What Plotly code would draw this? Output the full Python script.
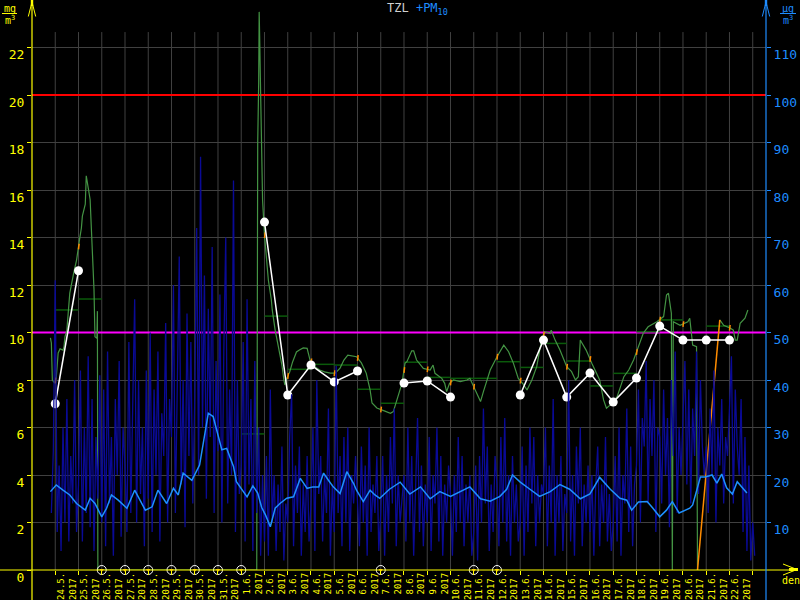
import pandas as pd
import plotly.graph_objects as go

# ---------------- DATA ----------------
START = pd.Timestamp("2017-05-24 00:00")

tick_labels = ["24.5.", "25.5.", "26.5.", "27.5.", "28.5.", "29.5.", "30.5.", "31.5.",
               "1.6.", "2.6.", "3.6.", "4.6.", "5.6.", "6.6.", "7.6.", "8.6.", "9.6.",
               "10.6.", "11.6.", "12.6.", "13.6.", "14.6.", "15.6.", "16.6.", "17.6.",
               "18.6.", "19.6.", "20.6.", "21.6.", "22.6."]
year_label = "2017"

# TZL daily values (mg/m3), None = missing day
tzl_daily = [7.0, 12.6, None, None, None, None, None, None, None, 14.65, 7.37, 8.63, 7.92,
             8.38, None, 7.87, 7.96, 7.28, None, None, 7.37, 9.68, 7.28, 8.29, 7.07, 8.08,
             10.27, 9.68, 9.68, 9.68]

# TZL day means (dark green segments)
tzl_day_mean = [10.95, 11.41, None, None, None, None, None, None, 5.73, 10.69, 8.45, 8.66,
                8.63, 7.61, 7.02, 8.75, 8.11, 8.07, 8.07, 8.77, 8.53, 9.54, 8.8, 7.75, 8.28,
                10.03, 10.53, None, 10.27, None]

# TZL running values (hours from 24.5. 00:00, mg/m3)
tzl_hours = [-5, -4, -3, -1, 1, 2, 3, 5, 8, 9, 10, 12, 15, 19, 22, 25, 27, 28, 31, 32, 33, 34,
             36, 37, 38, 39, 40, 41, 43, 43.5, 44, 208, 208.5, 209, 210, 210.5, 211, 212, 213,
             214, 216, 218, 220, 223, 224, 227, 229, 231, 234, 236, 237, 239, 242, 245, 249,
             252, 256, 260, 263, 268, 273, 278, 284, 289, 294, 298, 302, 311, 316, 321, 325,
             327, 332, 339, 346, 349, 352, 358, 361, 363, 368, 370, 373, 380, 387, 390, 392,
             399, 402, 404, 407, 411, 418, 425, 428, 432, 435, 439, 442, 449, 456, 463, 468,
             473, 478, 483, 487, 492, 497, 502, 505, 511, 512, 516, 521, 528, 533, 537, 540,
             542, 543, 548, 554, 557, 562, 566, 569, 573, 580, 587, 592, 597, 602, 607, 612,
             621, 628, 631, 633, 635, 636, 637, 638, 645, 650, 653, 655, 657, 658, 662, 663,
             664, 686, 690, 697, 700, 702, 704, 707, 712, 715]
tzl_values = [9.77, 9.56, 8.0, 7.89, 8.07, 8.72, 9.14, 9.31, 9.26, 9.4, 9.82, 10.1, 11.66, 12.5,
              13.05, 13.9, 14.4, 14.9, 15.4, 16.6, 16.4, 16.1, 15.6, 14.7, 14.2, 13.1, 11.8,
              9.82, 9.76, 10.9, 0.0, 0.0, 8.5, 18.0, 20.5, 23.5, 22.5, 20.1, 16.8, 15.6, 14.1,
              13.05, 12.2, 11.4, 10.95, 10.1, 9.68, 9.26, 8.63, 8.0, 7.79, 8.08, 8.34, 8.76,
              9.18, 9.26, 9.35, 9.33, 8.84, 8.56, 8.42, 8.34, 8.29, 8.29, 8.5, 8.84, 9.05, 8.98,
              8.72, 8.29, 7.58, 7.03, 6.82, 6.71, 6.6, 6.67, 7.09, 7.87, 8.7, 8.77, 9.23, 9.23,
              8.84, 8.49, 8.42, 8.63, 8.28, 8.07, 7.86, 7.51, 7.86, 8.0, 7.93, 8.0, 8.07, 7.72,
              7.51, 7.09, 7.51, 8.42, 8.98, 9.47, 9.19, 8.7, 8.07, 7.83, 7.58, 8.0, 8.56, 9.68,
              10.03, 9.96, 10.1, 9.68, 9.26, 8.56, 8.35, 8.0, 8.14, 9.68, 9.61, 9.26, 8.7, 8.42,
              8.0, 7.16, 6.81, 6.95, 7.3, 8.14, 8.42, 8.84, 9.4, 9.97, 10.24, 10.45, 10.67,
              11.58, 11.65, 11.09, 10.81, 0.0, 10.45, 10.3, 10.39, 10.45, 10.6, 9.97, 9.47, 9.4,
              0.0, None, 10.53, 10.3, 10.18, 10.1, 9.68, 9.68, 10.39, 10.6, 10.95]

# TZL substituted (orange) segment
tzl_subst_hours = [663, 675, 686]
tzl_subst_values = [0.0, 5.4, 10.53]

# PM10 raw values (ug/m3), every 2 hours starting at hour -4
pm10_raw = [12, 25,
    61, 8, 22, 4, 30, 10, 36, 6, 24, 14, 40, 8,
    18, 42, 6, 30, 12, 45, 9, 36, 4, 28, 15, 41,
    10, 38, 5, 46, 14, 28, 3, 36, 20, 44, 7, 30,
    22, 8, 48, 12, 35, 57, 10, 40, 16, 30, 5, 42,
    15, 50, 8, 38, 20, 46, 6, 33, 24, 52, 10, 36,
    28, 60, 12, 44, 66, 18, 40, 9, 54, 24, 48, 14,
    36, 72, 20, 87, 30, 62, 15, 55, 28, 68, 12, 44,
    25, 58, 10, 46, 70, 14, 38, 20, 82, 8, 40, 16,
    22, 48, 6, 57, 18, 36, 4, 44, 12, 30, 3, 20,
    6, 24, 3, 38, 10, 20, 4, 18, 8, 26, 2, 14,
    10, 28, 37, 5, 22, 12, 26, 3, 18, 8, 24, 6,
    14, 30, 4, 40, 16, 24, 6, 20, 12, 34, 3, 18,
    8, 43, 12, 24, 5, 28, 10, 30, 4, 20, 14, 24,
    16, 5, 26, 10, 22, 3, 30, 8, 18, 12, 24, 4,
    12, 24, 3, 20, 8, 28, 14, 34, 5, 20, 10, 16,
    20, 6, 30, 10, 24, 3, 18, 32, 8, 22, 5, 18,
    10, 28, 4, 20, 14, 30, 6, 24, 3, 18, 10, 22,
    16, 3, 20, 8, 28, 10, 24, 5, 18, 10, 20, 3,
    8, 22, 2, 24, 10, 34, 14, 26, 4, 18, 8, 24,
    18, 5, 28, 10, 32, 6, 20, 3, 24, 10, 18, 6,
    10, 26, 3, 22, 8, 30, 14, 28, 5, 20, 10, 18,
    16, 30, 5, 22, 10, 36, 3, 20, 10, 24, 4, 16,
    12, 40, 6, 20, 3, 26, 14, 30, 5, 18, 10, 22,
    8, 20, 3, 18, 26, 5, 18, 10, 28, 6, 16, 4,
    10, 24, 6, 30, 3, 20, 14, 34, 8, 26, 5, 18,
    22, 38, 10, 32, 26, 44, 14, 36, 24, 40, 8, 30,
    28, 14, 38, 20, 32, 9, 40, 24, 46, 12, 30, 20,
    32, 44, 18, 38, 14, 34, 24, 46, 16, 40, 26, 20,
    26, 12, 34, 20, 42, 10, 30, 22, 36, 14, 28, 24,
    34, 45, 14, 38, 26, 20, 36, 8, 28, 4, 22, 2,
    10, 3]
PM10_RAW_FIRST_HOUR = -4
PM10_RAW_STEP_HOURS = 2

# PM10 running average (hours, ug/m3)
pm10_avg_hours = [-5, 1, 8, 15, 22, 31, 36, 41, 48, 53, 58, 65, 74, 82, 93, 100, 106, 115, 122,
                  127, 132, 141, 149, 153, 158, 163, 172, 177, 184, 187, 198, 204, 209, 213, 217,
                  222, 227, 232, 239, 246, 253, 260, 266, 272, 277, 282, 287, 294, 301, 308, 311,
                  318, 325, 330, 335, 345, 356, 366, 377, 387, 397, 408, 418, 428, 439, 449, 459,
                  466, 472, 480, 490, 500, 511, 521, 531, 542, 552, 562, 573, 583, 590, 595, 602,
                  611, 617, 624, 631, 637, 644, 650, 655, 658, 662, 666, 671, 678, 683, 688, 693,
                  699, 704, 709, 714]
pm10_avg_values = [16.5, 17.9, 16.8, 15.8, 14.0, 12.6, 15.1, 14.0, 11.2, 13.0, 15.8, 14.7, 13.0,
                   16.8, 12.6, 13.3, 16.8, 14.0, 17.2, 15.8, 20.4, 18.9, 22.1, 27.0, 33.0, 32.3,
                   25.3, 25.6, 21.8, 18.6, 15.4, 17.7, 16.2, 13.2, 11.6, 9.1, 13.0, 14.0, 15.1,
                   15.4, 19.3, 17.2, 17.5, 17.5, 20.4, 18.9, 17.5, 16.1, 20.7, 18.2, 16.8, 14.4,
                   16.8, 15.8, 15.1, 17.0, 18.5, 16.0, 17.5, 15.0, 16.5, 15.5, 16.5, 17.5, 15.0,
                   14.5, 15.5, 17.0, 20.0, 18.5, 17.0, 15.5, 16.5, 18.0, 17.0, 15.0, 16.0, 19.5,
                   17.0, 15.1, 14.7, 12.6, 14.3, 14.4, 13.0, 11.2, 12.6, 14.4, 12.0, 12.6, 13.0,
                   13.7, 16.8, 19.6, 19.6, 20.0, 18.3, 20.2, 17.3, 16.0, 18.6, 17.3, 16.2]

TZL_LIMIT_HIGH = 20   # mg/m3
TZL_LIMIT = 10        # mg/m3

# ---------------- STYLE / GEOMETRY ----------------
W, H = 800, 600
L, R, T, B = 32, 34, 0, 30
PW, PH = W - L - R, H - T - B
YMAX = 24.0
Y2MAX = 120.0
FONT = "DejaVu Sans Mono"
YELLOW = "#ffff00"
BLUE = "#1e8cff"
GRID = "#404040"


def fx(px):
    return (px - L) / PW


def fy(py):
    return (H - B - py) / PH


def at_hours(hours):
    return [START + pd.Timedelta(hours=h) for h in hours]


n_days = len(tick_labels)
day_starts = [START + pd.Timedelta(days=k) for k in range(n_days)]
boundaries = [START + pd.Timedelta(days=k) for k in range(n_days + 1)]
noons = [d + pd.Timedelta(hours=12) for d in day_starts]

NB = "\u00a0"


def two_line(lbl):
    n = max(len(lbl), len(year_label))
    return lbl.ljust(n, NB) + "<br>" + year_label.ljust(n, NB)


ticktext = [two_line(l) for l in tick_labels]

fig = go.Figure()

# PM10 raw
pm10_raw_hours = [PM10_RAW_FIRST_HOUR + PM10_RAW_STEP_HOURS * i for i in range(len(pm10_raw))]
fig.add_trace(go.Scatter(x=at_hours(pm10_raw_hours), y=pm10_raw, yaxis="y2", mode="lines",
                         line=dict(color="#0a0a96", width=1.3), hoverinfo="skip"))
# PM10 average
fig.add_trace(go.Scatter(x=at_hours(pm10_avg_hours), y=pm10_avg_values, yaxis="y2", mode="lines",
                         line=dict(color="#1e90ff", width=1.5), hoverinfo="skip"))

# limit lines
x_lo = START - pd.Timedelta(hours=24)
x_hi = START + pd.Timedelta(hours=733.7)
fig.add_trace(go.Scatter(x=[x_lo, x_hi], y=[TZL_LIMIT_HIGH, TZL_LIMIT_HIGH], mode="lines",
                         line=dict(color="#ff0000", width=2), hoverinfo="skip"))
fig.add_trace(go.Scatter(x=[x_lo, x_hi], y=[TZL_LIMIT, TZL_LIMIT], mode="lines",
                         line=dict(color="#ff00ff", width=2), hoverinfo="skip"))

# dark green day means
seg_x, seg_y = [], []
for k, v in enumerate(tzl_day_mean):
    if v is None:
        continue
    seg_x += [boundaries[k], boundaries[k + 1], None]
    seg_y += [v, v, None]
fig.add_trace(go.Scatter(x=seg_x, y=seg_y, mode="lines",
                         line=dict(color="#0a5a0a", width=1.5), hoverinfo="skip"))

# green running values
fig.add_trace(go.Scatter(x=at_hours(tzl_hours), y=tzl_values, mode="lines",
                         line=dict(color="#449444", width=1.2), hoverinfo="skip"))

# orange marks where running line crosses midnight
ox, oy = [], []
valid = [(h, v) for h, v in zip(tzl_hours, tzl_values) if v is not None]
for k in range(n_days + 1):
    hk = 24 * k
    for (h0, v0), (h1, v1) in zip(valid[:-1], valid[1:]):
        if h0 <= hk <= h1 and v0 > 0 and v1 > 0 and h1 - h0 < 12:
            v = v0 + (v1 - v0) * (hk - h0) / (h1 - h0)
            ox += [boundaries[k], boundaries[k] + pd.Timedelta(minutes=40), None]
            oy += [v - 0.12, v + 0.12, None]
            break
fig.add_trace(go.Scatter(x=ox, y=oy, mode="lines", line=dict(color="#ff8c00", width=1.5),
                         hoverinfo="skip"))
fig.add_trace(go.Scatter(x=at_hours(tzl_subst_hours), y=tzl_subst_values, mode="lines",
                         line=dict(color="#ff8c00", width=1.5), hoverinfo="skip"))

# white daily line
fig.add_trace(go.Scatter(x=day_starts, y=tzl_daily, mode="lines+markers",
                         line=dict(color="#ffffff", width=1.5),
                         marker=dict(color="#ffffff", size=9), hoverinfo="skip"))
# missing days markers
miss_x = [d for d, v in zip(day_starts, tzl_daily) if v is None]
fig.add_trace(go.Scatter(x=miss_x, y=[0] * len(miss_x), mode="markers", cliponaxis=False,
                         marker=dict(symbol="circle-open", color="#ffffff", size=9,
                                     line=dict(width=1)), hoverinfo="skip"))
fig.add_trace(go.Scatter(x=miss_x, y=[0] * len(miss_x), mode="markers", cliponaxis=False,
                         marker=dict(symbol="triangle-down", color="#ffb000", size=4),
                         hoverinfo="skip"))

shapes = []
# vertical grid
for b in boundaries:
    shapes.append(dict(type="line", xref="x", yref="y", x0=b, x1=b, y0=0, y1=22.65,
                       line=dict(color=GRID, width=1), layer="below"))
# axis lines
shapes.append(dict(type="line", xref="paper", yref="paper", x0=fx(0), x1=fx(796), y0=0, y1=0,
                   line=dict(color=YELLOW, width=1)))
shapes.append(dict(type="line", xref="paper", yref="paper", x0=0, x1=0, y0=fy(600), y1=fy(1),
                   line=dict(color=YELLOW, width=1.2)))
shapes.append(dict(type="line", xref="paper", yref="paper", x0=1, x1=1, y0=fy(600), y1=fy(1),
                   line=dict(color=BLUE, width=1.2)))
# arrows
for cx, col in [(32, YELLOW), (766, BLUE)]:
    shapes.append(dict(type="path", xref="paper", yref="paper",
                       path=f"M {fx(cx-3.7)},{fy(16.5)} L {fx(cx)},{fy(2)} L {fx(cx+3.7)},{fy(16.5)}",
                       line=dict(color=col, width=1)))
    shapes.append(dict(type="rect", xref="paper", yref="paper", x0=fx(cx - 1.2), x1=fx(cx + 1.2),
                       y0=fy(6), y1=fy(0), fillcolor=col, line=dict(width=0)))
shapes.append(dict(type="path", xref="paper", yref="paper",
                   path=f"M {fx(783)},{fy(564)} L {fx(797)},{fy(569.5)} L {fx(783)},{fy(575)}",
                   line=dict(color=YELLOW, width=1)))
shapes.append(dict(type="rect", xref="paper", yref="paper", x0=fx(789), x1=fx(798),
                   y0=fy(571), y1=fy(568), fillcolor=YELLOW, line=dict(width=0)))
# unit fraction bars
shapes.append(dict(type="line", xref="paper", yref="paper", x0=fx(2), x1=fx(17),
                   y0=fy(13.5), y1=fy(13.5), line=dict(color=YELLOW, width=1)))
shapes.append(dict(type="line", xref="paper", yref="paper", x0=fx(780), x1=fx(796),
                   y0=fy(13.5), y1=fy(13.5), line=dict(color=BLUE, width=1)))


def note(px, py, text, color, size=10):
    return dict(xref="paper", yref="paper", x=fx(px), y=fy(py), text=text, showarrow=False,
                xanchor="center", yanchor="middle",
                font=dict(family=FONT, size=size, color=color))


annotations = [
    note(10, 8, "mg", YELLOW),
    note(10, 20, "m<sup>3</sup>", YELLOW),
    note(788, 8, "µg", BLUE),
    note(788, 20, "m<sup>3</sup>", BLUE),
    note(791, 580, "den", YELLOW),
    note(417, 9, '<span style="color:#d0d0d0">TZL</span> '
                 '<span style="color:#1e8cff">+PM<sub>10</sub></span>', "#d0d0d0", 12),
]

left_ticks = list(range(0, 23, 2))
right_ticks = list(range(10, 111, 10))

fig.update_layout(
    width=W, height=H, showlegend=False,
    paper_bgcolor="#000000", plot_bgcolor="#000000",
    margin=dict(l=L, r=R, t=T, b=B, autoexpand=False),
    xaxis=dict(type="date", range=[x_lo, x_hi], showgrid=False, zeroline=False, showline=False,
               tickmode="array", tickvals=noons, ticktext=ticktext, tickangle=-90, ticks="",
               tickfont=dict(family=FONT, size=9, color=YELLOW),
               minor=dict(tickmode="array", tickvals=boundaries, ticks="outside", ticklen=4,
                          tickcolor=YELLOW, showgrid=False)),
    yaxis=dict(range=[0, YMAX], tickmode="array", tickvals=left_ticks,
               ticktext=[str(v) for v in left_ticks], ticks="outside", ticklen=4,
               tickcolor=YELLOW, showgrid=True, gridcolor=GRID, gridwidth=1, zeroline=False,
               showline=False, tickfont=dict(family=FONT, size=13, color=YELLOW),
               ticklabelshift=7),
    yaxis2=dict(range=[0, Y2MAX], overlaying="y", side="right", anchor="x", tickmode="array",
                tickvals=right_ticks, ticktext=[str(v) for v in right_ticks], ticks="outside",
                ticklen=4, tickcolor=BLUE, showgrid=False, zeroline=False, showline=False,
                tickfont=dict(family=FONT, size=13, color=BLUE), ticklabelshift=7),
    shapes=shapes, annotations=annotations,
)

fig.write_html("out.html", config={"displayModeBar": False},
               post_script="document.body.style.margin='0';document.body.style.overflow='hidden';")
